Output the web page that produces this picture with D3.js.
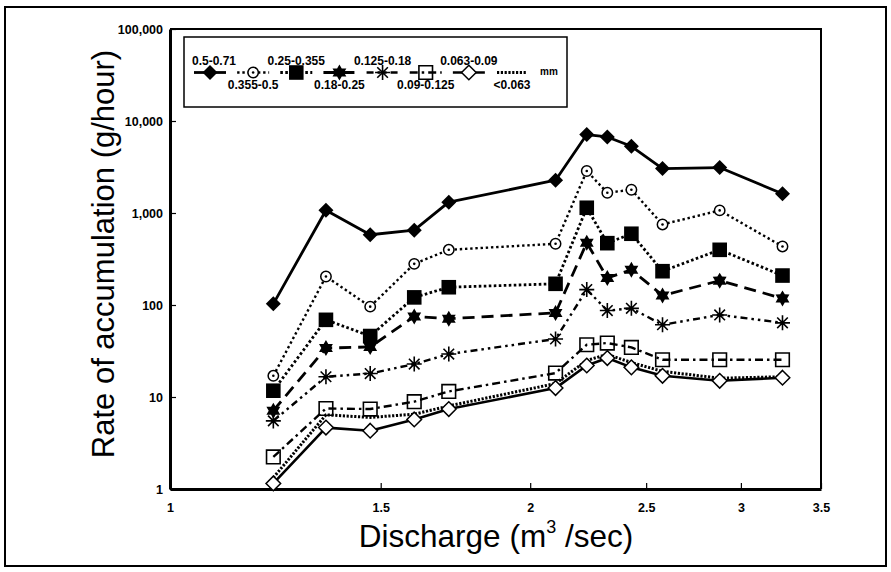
<!DOCTYPE html>
<html>
  <head>
    <meta charset="utf-8">
    <title>Rate of accumulation</title>
    <style>
      body { margin: 0; background: #fff; }
      text { font-family: "Liberation Sans", Arial, sans-serif; fill: #000; }
    </style>
  </head>
  <body>
    <script src="https://d3js.org/d3.v7.min.js"></script>
    <svg id="chart" width="891" height="572"></svg>
    <script>
      // discharge (m3/sec) at each sampling
      const discharge = [1.22, 1.35, 1.47, 1.60, 1.71, 2.10, 2.23, 2.32, 2.43, 2.58, 2.88, 3.25]

      // rate of accumulation (g/hour) per grain size class
      const s050_071 = [103, 1070, 580, 650, 1310, 2270, 7130, 6710, 5310, 3040, 3120, 1620]
      const s0355_05 = [17, 204, 96, 280, 398, 463, 2860, 1660, 1790, 751, 1067, 433]
      const s025_0355 = [11.7, 69, 46, 121, 156, 170, 1140, 470, 595, 233, 398, 209]
      const s018_025 = [7.1, 34, 35, 75, 71, 82, 475, 197, 241, 127, 184, 118]
      const s0125_018 = [5.5, 16.6, 18, 22.8, 29.3, 42.7, 147, 87, 92, 61, 78, 64]
      const s009_0125 = [2.23, 7.5, 7.4, 8.9, 11.5, 18.2, 37, 38.6, 34.6, 25.4, 25.4, 25.4]
      const s0063_009 = [1.15, 4.65, 4.3, 5.7, 7.4, 12.5, 22, 26.5, 21, 17, 15, 16.2]
      const s_lt0063 = [1.33, 6.4, 6.0, 6.5, 8.0, 14, 25, 29, 23.7, 19, 16, 16.6]

      const seriesLabels = ['0.5-0.71', '0.355-0.5', '0.25-0.355', '0.18-0.25',
                            '0.125-0.18', '0.09-0.125', '0.063-0.09', '<0.063']
      const yTicks = [1, 10, 100, 1000, 10000, 100000]
      const xTicks = [1, 1.5, 2, 2.5, 3, 3.5]

      const svg = d3.select('#chart')

      const x = d3.scaleLog().domain([1, 3.5]).range([170, 821])
      const y = d3.scaleLog().domain([1, 100000]).range([489, 29])

      // marker shapes, centred on 0,0
      function diamondPath(s) { return `M0,${-s}L${s},0L0,${s}L${-s},0Z` }
      function squarePath(s) { return `M${-s},${-s}H${s}V${s}H${-s}Z` }
      function starPath(r) {
        const pts = d3.range(12).map(i => {
          const a = -Math.PI / 2 + i * Math.PI / 6
          const rr = i % 2 ? r * 0.58 : r
          return [rr * Math.cos(a), rr * Math.sin(a)]
        })
        return 'M' + pts.map(p => p.join(',')).join('L') + 'Z'
      }
      function asteriskPath(r) {
        const d = r * Math.SQRT1_2
        return `M0,${-r}V${r}M${-r},0H${r}M${-d},${-d}L${d},${d}M${-d},${d}L${d},${-d}`
      }

      function drawMarker(g, kind) {
        if (kind === 'diamond') g.append('path').attr('d', diamondPath(7.5)).attr('fill', '#000')
        if (kind === 'circle') {
          g.append('circle').attr('r', 5.2).attr('fill', '#fff').attr('stroke', '#000').attr('stroke-width', 1.5)
          g.append('circle').attr('r', 1.3).attr('fill', '#000')
        }
        if (kind === 'square') g.append('path').attr('d', squarePath(7.3)).attr('fill', '#000')
        if (kind === 'star') g.append('path').attr('d', starPath(8)).attr('fill', '#000')
        if (kind === 'asterisk') g.append('path').attr('d', asteriskPath(7.5)).attr('fill', 'none')
            .attr('stroke', '#000').attr('stroke-width', 1.6)
        if (kind === 'opensquare') g.append('path').attr('d', squarePath(6.8)).attr('fill', 'none')
            .attr('stroke', '#000').attr('stroke-width', 1.6)
        if (kind === 'opendiamond') g.append('path').attr('d', diamondPath(7.3)).attr('fill', '#fff')
            .attr('stroke', '#000').attr('stroke-width', 1.5)
      }

      const series = [
        { label: seriesLabels[7], values: s_lt0063, marker: null, dash: '2.2,1.6', width: 3 },
        { label: seriesLabels[6], values: s0063_009, marker: 'opendiamond', dash: null, width: 2.6 },
        { label: seriesLabels[5], values: s009_0125, marker: 'opensquare', dash: '8,4,2.5,4', width: 2.4 },
        { label: seriesLabels[4], values: s0125_018, marker: 'asterisk', dash: '7,4,2.5,4,2.5,4', width: 2.4 },
        { label: seriesLabels[3], values: s018_025, marker: 'star', dash: '12,7', width: 2.8 },
        { label: seriesLabels[2], values: s025_0355, marker: 'square', dash: '2.6,2.4', width: 2.8 },
        { label: seriesLabels[1], values: s0355_05, marker: 'circle', dash: '2.4,2.8', width: 2.4 },
        { label: seriesLabels[0], values: s050_071, marker: 'diamond', dash: null, width: 2.8 }
      ]

      // outer frame
      svg.append('rect')
        .attr('x', 5).attr('y', 7).attr('width', 881).attr('height', 559)
        .attr('fill', 'none').attr('stroke', '#000').attr('stroke-width', 2)

      // plot border (top and right)
      svg.append('path')
        .attr('d', `M${x(1)},${y(100000)}H${x(3.5)}V${y(1)}`)
        .attr('fill', 'none').attr('stroke', '#000').attr('stroke-width', 2)

      // axes
      const yAxis = svg.append('g')
        .attr('transform', `translate(${x(1)},0)`)
        .call(d3.axisLeft(y).tickValues(yTicks).tickFormat(d3.format(','))
          .tickSizeInner(-6).tickSizeOuter(0).tickPadding(7))
      yAxis.select('.domain').attr('stroke-width', 3)
      yAxis.selectAll('.tick line').attr('stroke-width', 1.2)
      yAxis.selectAll('text').attr('font-size', 12.5).attr('font-weight', 'bold')
        .attr('font-family', '"Liberation Sans", Arial, sans-serif')

      const xAxis = svg.append('g')
        .attr('transform', `translate(0,${y(1)})`)
        .call(d3.axisBottom(x).tickValues(xTicks).tickFormat(d3.format(''))
          .tickSizeInner(-6).tickSizeOuter(0).tickPadding(14))
      xAxis.select('.domain').attr('stroke-width', 3)
      xAxis.selectAll('.tick line').attr('stroke-width', 1.2)
      xAxis.selectAll('text').attr('font-size', 12.5).attr('font-weight', 'bold')
        .attr('font-family', '"Liberation Sans", Arial, sans-serif')

      // axis titles
      svg.append('text')
        .attr('transform', 'translate(114,254) rotate(-90)')
        .attr('text-anchor', 'middle')
        .attr('font-size', 31)
        .text('Rate of accumulation (g/hour)')

      const xt = svg.append('text')
        .attr('x', 496).attr('y', 547)
        .attr('text-anchor', 'middle')
        .attr('font-size', 31.5)
      xt.append('tspan').text('Discharge (m')
      xt.append('tspan').attr('font-size', 18).attr('dy', -14).text('3')
      xt.append('tspan').attr('dy', 14).text(' /sec)')

      // lines and markers
      const line = d3.line()
        .x((d, i) => x(discharge[i]))
        .y(d => y(d))

      series.forEach(s => {
        const g = svg.append('g')
        g.append('path')
          .datum(s.values)
          .attr('d', line)
          .attr('fill', 'none')
          .attr('stroke', '#000')
          .attr('stroke-width', s.width)
          .attr('stroke-dasharray', s.dash)
          .attr('stroke-linejoin', 'round')
        if (s.marker) {
          g.selectAll('g.pt')
            .data(s.values)
            .join('g')
              .attr('class', 'pt')
              .attr('transform', (d, i) => `translate(${x(discharge[i])},${y(d)})`)
              .each(function() { drawMarker(d3.select(this), s.marker) })
        }
      })

      // legend
      const legend = svg.append('g')
      legend.append('rect')
        .attr('x', 184).attr('y', 37).attr('width', 383).attr('height', 70)
        .attr('fill', '#fff').attr('stroke', '#000').attr('stroke-width', 1.5)

      const legendOrder = series.slice().reverse()
      const lx = d3.scalePoint().domain(seriesLabels).range([210, 512])
      const ly = 72.5

      legendOrder.forEach((s, i) => {
        const cx = lx(s.label)
        const half = s.marker ? 16 : 15
        legend.append('line')
          .attr('x1', cx - half).attr('x2', cx + half)
          .attr('y1', ly).attr('y2', ly)
          .attr('stroke', '#000')
          .attr('stroke-width', s.width)
          .attr('stroke-dasharray', s.dash)
        if (s.marker) {
          const m = legend.append('g').attr('transform', `translate(${cx},${ly})`)
          drawMarker(m, s.marker)
        }
        legend.append('text')
          .attr('x', cx + (i === 0 ? 4 : 0))
          .attr('y', i % 2 === 0 ? 65 : 88.5)
          .attr('text-anchor', 'middle')
          .attr('font-size', 12)
          .attr('font-weight', 'bold')
          .text(s.label)
      })

      legend.append('text')
        .attr('x', 540).attr('y', 75)
        .attr('font-size', 10)
        .attr('font-weight', 'bold')
        .text('mm')
    </script>
  </body>
</html>
